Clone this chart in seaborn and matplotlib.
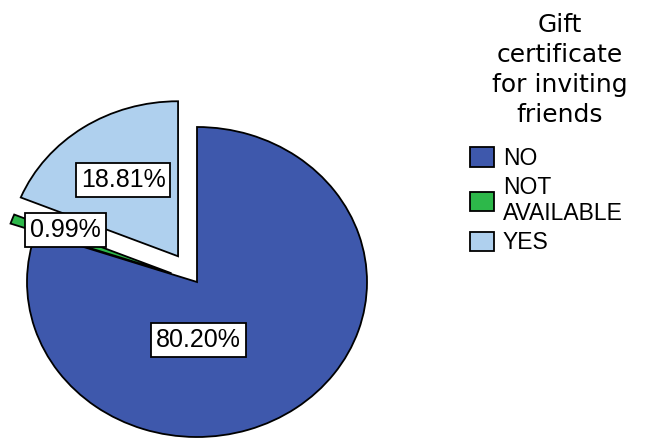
import matplotlib
matplotlib.use("Agg")
import matplotlib.pyplot as plt
from matplotlib.patches import Patch
import seaborn as sns
import pandas as pd

categories = ["NO", "NOT\nAVAILABLE", "YES"]
percentages = [80.20, 0.99, 18.81]
colors = ["#3e58ac", "#2db84a", "#afd0ee"]
explode = [0.0, 0.16, 0.2]
# label box centres in axis data units (x, y)
label_xy = [(0.01, -0.375), (-0.775, 0.335), (-0.435, 0.66)]
legend_title = "Gift\ncertificate\nfor inviting\nfriends"

sns.set_theme(style="white")
plt.rcParams["font.family"] = ["Liberation Sans", "DejaVu Sans"]
plt.rcParams["text.color"] = "black"

df = pd.DataFrame({"category": categories, "pct": percentages})
palette = sns.color_palette(colors)

fig = plt.figure(figsize=(6.48, 4.40), dpi=100)
rx, ry = 170.0, 155.0
cx, cy = 197.0, 282.0
x0, x1 = -1.15, 1.15
y0, y1 = -1.02, 1.25
ax = fig.add_axes([(cx + x0 * rx) / 648, (440 - (cy - y0 * ry)) / 440,
                   (x1 - x0) * rx / 648, (y1 - y0) * ry / 440])

wedges, _ = ax.pie(df["pct"], colors=palette, explode=explode,
                   startangle=90, counterclock=False,
                   wedgeprops=dict(edgecolor="black", linewidth=1.3))
ax.set_aspect("auto")
ax.set_xlim(x0, x1)
ax.set_ylim(y0, y1)
ax.axis("off")

for (lx, ly), p in zip(label_xy, df["pct"]):
    ax.text(lx, ly, f"{p:.2f}%", ha="center", va="center", fontsize=18,
            color="black",
            bbox=dict(boxstyle="square,pad=0.2", facecolor="white",
                      edgecolor="black", linewidth=1.3))

# legend heading, centred above the entries
fig.text(560 / 648, 1 - 13 / 440, legend_title, ha="center", va="top",
         family="DejaVu Sans", fontsize=18, color="black",
         linespacing=1.32, multialignment="center")

handles = [Patch(facecolor=c, edgecolor="black", linewidth=1.3) for c in palette]
leg = fig.legend(handles, df["category"],
                 loc="upper left", bbox_to_anchor=(470 / 648, 1 - 147 / 440),
                 frameon=False, fontsize=16.5, borderpad=0.0, borderaxespad=0.0,
                 handlelength=1.05, handleheight=0.92, handletextpad=0.38,
                 labelspacing=0.27)
for t in leg.get_texts():
    t.set_linespacing(1.15)
    t.set_color("black")

fig.savefig("out.png", dpi=100)
